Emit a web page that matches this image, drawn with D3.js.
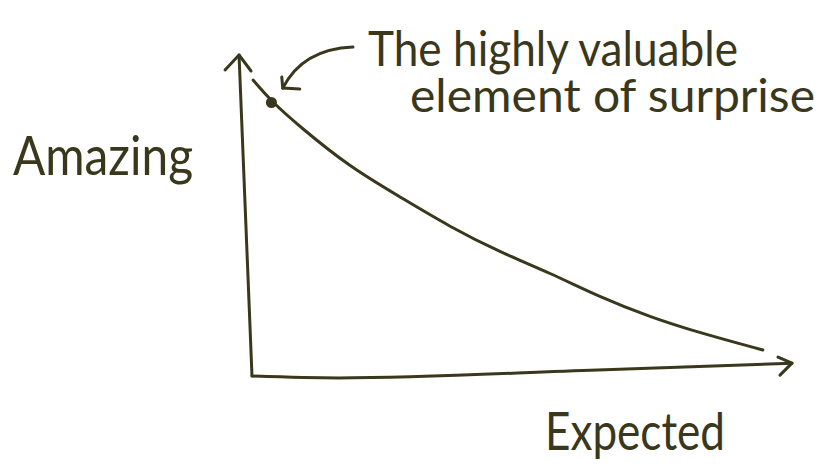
<!DOCTYPE html>
<html lang="en">

<head>
    <meta charset="UTF-8">
    <title>Amazing vs Expected</title>
    <script src="https://cdn.jsdelivr.net/npm/d3@7"></script>
    <style>
        body {
            margin: 0;
            background: #ffffff;
        }

        text {
            font-family: 'Lato', sans-serif;
            fill: #3a381c;
        }
    </style>
</head>

<body>
    <div id="chart"></div>
    <script>
        // curve: expectedness (x) vs amazingness (y), 0..100
        const expected = [0.2, 3.5, 8.9, 18.1, 27.4, 36.7, 45.9, 55.2, 64.4, 73.7, 83.0, 94.6]
        const amazing = [92.2, 85.7, 77.6, 65.1, 55.8, 46.4, 38.6, 32.1, 24.6, 18.4, 13.4, 8.1]

        // the surprise point on the curve and where its note comes from
        const surprise = [3.6, 85.2]
        const noteFrom = [18.7, 102.5]
        const noteTip = [5.7, 89.7]

        // hand-drawn axes (slightly wobbly)
        const xAxisLine = [[0, 0], [16, -0.6], [64, 1.9], [100, 4.0]]
        const yAxisLine = [[0, 0], [-2.4, 100]]

        const noteLines = ["The highly valuable", "element of surprise"]
        const yLabel = "Amazing"
        const xLabel = "Expected"

        const width = 824
        const height = 475
        const ink = "#3a381c"

        const x = d3.scaleLinear().domain([0, 100]).range([252, 792])
        const y = d3.scaleLinear().domain([0, 100]).range([376, 55])

        const svg = d3.select("#chart")
            .append("svg")
            .attr("width", width)
            .attr("height", height)

        const line = d3.line()
            .x(d => x(d[0]))
            .y(d => y(d[1]))

        function stroke(sel) {
            sel.attr("fill", "none")
                .attr("stroke", ink)
                .attr("stroke-width", 3)
                .attr("stroke-linecap", "round")
                .attr("stroke-linejoin", "round")
        }

        // axes
        svg.append("path")
            .attr("d", line.curve(d3.curveMonotoneX)(xAxisLine))
            .call(stroke)

        svg.append("path")
            .attr("d", line.curve(d3.curveLinear)(yAxisLine))
            .call(stroke)

        function arrowHead(tip, arms) {
            const [tx, ty] = tip
            svg.append("path")
                .attr("d", `M${tx + arms[0][0]},${ty + arms[0][1]}L${tx},${ty}L${tx + arms[1][0]},${ty + arms[1][1]}`)
                .call(stroke)
        }

        const xEnd = xAxisLine[xAxisLine.length - 1]
        arrowHead([x(xEnd[0]), y(xEnd[1])], [[-14, -6], [-12, 12]])
        const yEnd = yAxisLine[yAxisLine.length - 1]
        arrowHead([x(yEnd[0]), y(yEnd[1])], [[-14, 15], [12, 16]])

        // the curve
        const pts = expected.map((e, i) => [e, amazing[i]])
        svg.append("path")
            .attr("d", line.curve(d3.curveBasis)(pts))
            .call(stroke)

        svg.append("circle")
            .attr("cx", x(surprise[0]))
            .attr("cy", y(surprise[1]))
            .attr("r", 5.5)
            .attr("fill", ink)

        // annotation arrow
        const fx = x(noteFrom[0]), fy = y(noteFrom[1])
        const tx = x(noteTip[0]), ty = y(noteTip[1])
        svg.append("path")
            .attr("d", `M${fx},${fy}Q${tx + 20},${fy + 2} ${tx},${ty}`)
            .call(stroke)
        arrowHead([tx, ty], [[-1, -11], [17, 1]])

        // texts
        svg.append("text")
            .attr("x", 368).attr("y", 66)
            .attr("font-size", 48)
            .attr("textLength", 370)
            .attr("lengthAdjust", "spacingAndGlyphs")
            .text(noteLines[0])

        svg.append("text")
            .attr("x", 410).attr("y", 112)
            .attr("font-size", 46)
            .attr("textLength", 405)
            .attr("lengthAdjust", "spacingAndGlyphs")
            .text(noteLines[1])

        svg.append("text")
            .attr("x", 13).attr("y", 175)
            .attr("font-size", 54)
            .attr("textLength", 180)
            .attr("lengthAdjust", "spacingAndGlyphs")
            .text(yLabel)

        svg.append("text")
            .attr("x", 545).attr("y", 450)
            .attr("font-size", 52)
            .attr("textLength", 180)
            .attr("lengthAdjust", "spacingAndGlyphs")
            .text(xLabel)
    </script>
</body>

</html>
